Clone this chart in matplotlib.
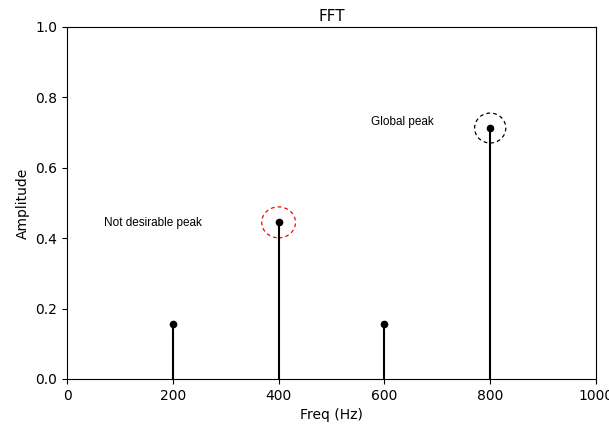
import matplotlib
matplotlib.use("Agg")
import matplotlib.pyplot as plt
from matplotlib.patches import Ellipse

freqs = [200, 400, 600, 800]
amps = [0.156, 0.445, 0.156, 0.713]
xticks = [0, 200, 400, 600, 800, 1000]

fig = plt.figure(figsize=(6.09, 4.25), dpi=100)
ax = fig.add_axes([67/609, 1-379/425, (596-67)/609, (379-27)/425])

ml, sl, bl = ax.stem(freqs, amps, linefmt='k-', markerfmt='ko', basefmt=' ')
plt.setp(ml, markersize=4.5)
plt.setp(sl, linewidth=1.5)

ax.add_patch(Ellipse((freqs[1], amps[1]), 64, 0.088, fill=False,
                     edgecolor='red', linestyle=(0, (3, 2.5)), linewidth=0.9))
ax.add_patch(Ellipse((freqs[3], amps[3]), 59, 0.085, fill=False,
                     edgecolor='black', linestyle=(0, (3, 2.5)), linewidth=0.9))

ax.text(70, 0.443, "Not desirable peak", fontsize=8.5, family='Liberation Sans', va='center')
ax.text(575, 0.73, "Global peak", fontsize=8.5, family='Liberation Sans', va='center')

ax.set_xlim(0, 1000)
ax.set_ylim(0, 1.0)
ax.set_xticks(xticks)
ax.set_title("FFT", fontsize=11, pad=4)
ax.set_xlabel("Freq (Hz)", fontsize=10)
ax.set_ylabel("Amplitude", fontsize=10)
ax.tick_params(labelsize=10)

fig.savefig("out.png", dpi=100)
